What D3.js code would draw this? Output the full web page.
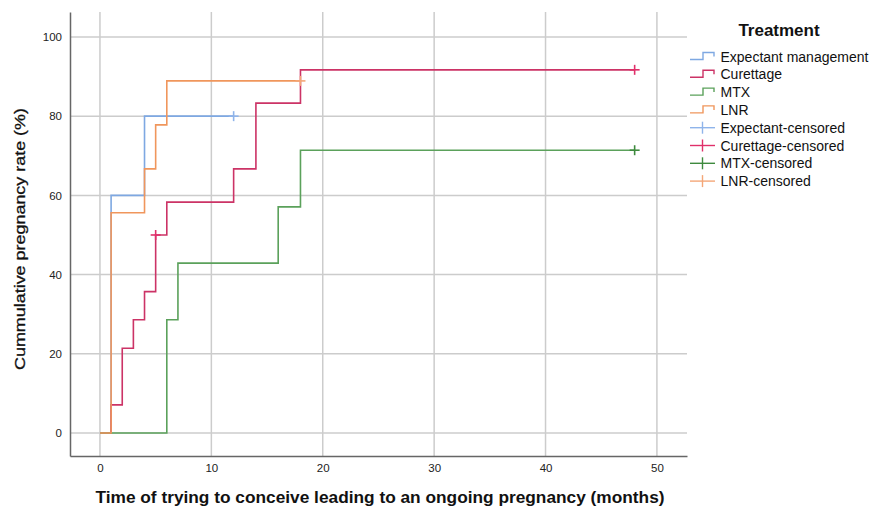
<!DOCTYPE html>
<html><head><meta charset="utf-8">
<script src="https://cdn.jsdelivr.net/npm/d3@7/dist/d3.min.js"></script>
<style>body{margin:0;background:#fff}svg{display:block;font-family:"Liberation Sans",Arial,sans-serif}</style>
</head><body><svg id="c" width="871" height="509"></svg>
<script>
// ---- data ----
const seriesNames = ["Expectant management","Curettage","MTX","LNR"];
const censorNames = ["Expectant-censored","Curettage-censored","MTX-censored","LNR-censored"];
const expectantTimes = [0,1,4,12];
const expectantRates = [0,60,80,80];
const curettageTimes = [0,1,2,3,4,5,6,12,14,18,48];
const curettageRates = [0,7.1,21.4,28.6,35.7,50,58.3,66.7,83.3,91.7,91.7];
const mtxTimes = [0,6,7,16,18,48];
const mtxRates = [0,28.6,42.9,57.1,71.4,71.4];
const lnrTimes = [0,1,4,5,6,18];
const lnrRates = [0,55.6,66.7,77.8,88.9,88.9];
const expectantCensored = [[12,80]];
const curettageCensored = [[5,50],[48,91.7]];
const mtxCensored = [[48,71.4]];
const lnrCensored = [[18,88.9]];
const xTicks = [0,10,20,30,40,50];
const yTicks = [0,20,40,60,80,100];

const lineColors = ["#7ea8e2","#cc3366","#5ba15b","#f0965c"];
const censorColors = ["#8fb4ea","#e0306a","#3e8a3e","#f4a778"];

const svg = d3.select("#c");
const L=70,R=687,T=12,B=456;
const x = d3.scaleLinear().domain([-2.69,52.7]).range([L,R]);
const y = d3.scaleLinear().domain([-5.8,106.3]).range([B,T]);

// grid
svg.append("g").selectAll("line").data(xTicks).join("line")
  .attr("x1",d=>x(d)).attr("x2",d=>x(d)).attr("y1",T).attr("y2",B)
  .attr("stroke","#cccccc").attr("stroke-width",1.5);
svg.append("g").selectAll("line").data(yTicks).join("line")
  .attr("x1",L).attr("x2",R).attr("y1",d=>y(d)).attr("y2",d=>y(d))
  .attr("stroke","#cccccc").attr("stroke-width",1.5);

// axes
const xAxis = d3.axisBottom(x).tickValues(xTicks).tickSize(0).tickPadding(8);
const gx = svg.append("g").attr("transform",`translate(0,${B})`).call(xAxis);
gx.select(".domain").attr("stroke","#666").attr("stroke-width",1.5);
gx.selectAll("text").attr("font-size",11.5).attr("fill","#222").attr("font-family","Liberation Sans, Arial");
const yAxis = d3.axisLeft(y).tickValues(yTicks).tickSize(0).tickPadding(8);
const gy = svg.append("g").attr("transform",`translate(${L},0)`).call(yAxis);
gy.select(".domain").attr("stroke","#666").attr("stroke-width",1.5);
gy.selectAll("text").attr("font-size",11.5).attr("fill","#222").attr("font-family","Liberation Sans, Arial");

// curves
const series = [
  {t:expectantTimes,v:expectantRates,c:expectantCensored},
  {t:curettageTimes,v:curettageRates,c:curettageCensored},
  {t:mtxTimes,v:mtxRates,c:mtxCensored},
  {t:lnrTimes,v:lnrRates,c:lnrCensored}
];
const line = d3.line().x(d=>x(d[0])).y(d=>y(d[1])).curve(d3.curveStepAfter);
series.forEach((s,i)=>{
  const pts = s.t.map((t,j)=>[t,s.v[j]]);
  svg.append("path").attr("d",line(pts)).attr("fill","none")
    .attr("stroke",lineColors[i]).attr("stroke-width",1.6);
});
series.forEach((s,i)=>{
  const g = svg.append("g");
  s.c.forEach(p=>{
    g.append("line").attr("x1",x(p[0])-5).attr("x2",x(p[0])+5).attr("y1",y(p[1])).attr("y2",y(p[1]))
      .attr("stroke",censorColors[i]).attr("stroke-width",1.6);
    g.append("line").attr("x1",x(p[0])).attr("x2",x(p[0])).attr("y1",y(p[1])-5).attr("y2",y(p[1])+5)
      .attr("stroke",censorColors[i]).attr("stroke-width",1.6);
  });
});

// titles
svg.append("text").attr("x",380).attr("y",503).attr("text-anchor","middle")
  .attr("font-size",16).attr("font-weight","bold").attr("fill","#111")
  .attr("textLength",569).attr("lengthAdjust","spacingAndGlyphs")
  .text("Time of trying to conceive leading to an ongoing pregnancy (months)");
svg.append("text").attr("transform","translate(25,239) rotate(-90)").attr("text-anchor","middle")
  .attr("font-size",15.5).attr("fill","#111").attr("stroke","#111").attr("stroke-width",0.3)
  .attr("textLength",262).attr("lengthAdjust","spacingAndGlyphs")
  .text("Cummulative pregnancy rate (%)");

// legend
svg.append("text").attr("x",779).attr("y",36).attr("text-anchor","middle")
  .attr("font-size",17).attr("font-weight","bold").attr("fill","#111").text("Treatment");
const ly0 = 56.5, ldy = 17.8;
seriesNames.forEach((n,i)=>{
  const yy = ly0 + i*ldy;
  svg.append("path").attr("d",`M690,${yy+3}H703V${yy-4}H714V${yy}`).attr("fill","none")
    .attr("stroke",lineColors[i]).attr("stroke-width",1.4);
  svg.append("text").attr("x",720.5).attr("y",yy+5).attr("font-size",14).attr("fill","#111").text(n);
});
censorNames.forEach((n,i)=>{
  const yy = ly0 + (i+4)*ldy;
  svg.append("line").attr("x1",690).attr("x2",715).attr("y1",yy).attr("y2",yy).attr("stroke",censorColors[i]).attr("stroke-width",1.4);
  svg.append("line").attr("x1",702.5).attr("x2",702.5).attr("y1",yy-6).attr("y2",yy+6).attr("stroke",censorColors[i]).attr("stroke-width",1.4);
  svg.append("text").attr("x",720.5).attr("y",yy+5).attr("font-size",14).attr("fill","#111").text(n);
});
</script></body></html>
